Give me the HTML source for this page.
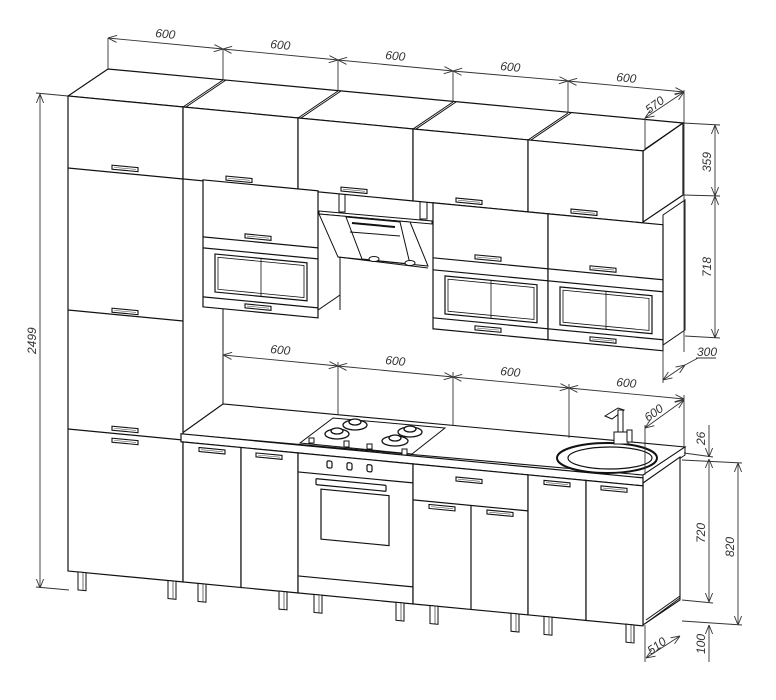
<!DOCTYPE html>
<html><head><meta charset="utf-8"><style>
html,body{margin:0;padding:0;background:#fff;}
svg{display:block;}
text{font-family:"Liberation Sans",sans-serif;font-style:italic;font-size:12px;fill:#333;}
</style></head><body>
<svg width="776" height="700" viewBox="0 0 776 700" xmlns="http://www.w3.org/2000/svg">
<defs>
<g id="h"><rect x="0" y="-2" width="26" height="4" fill="#fff" stroke="#111" stroke-width="1.1"/><line x1="2" y1="0" x2="24" y2="0" stroke="#555" stroke-width="0.6"/></g>
<g id="leg"><rect x="0" y="0" width="8" height="18" fill="#fff" stroke="#111" stroke-width="1"/><line x1="5" y1="0" x2="5" y2="18" stroke="#111" stroke-width="0.6"/></g>
<marker id="a" viewBox="0 0 10 10" refX="10" refY="5" markerWidth="9" markerHeight="9" orient="auto-start-reverse" markerUnits="userSpaceOnUse"><path d="M0,1 L10,5 L0,9" fill="none" stroke="#333" stroke-width="1"/></marker>
</defs>

<!-- top surfaces -->
<g fill="#fff" stroke="#111" stroke-width="1.2">
<polygon points="68,96 643,151 683,123 108,69"/>
<polygon points="643,151 683,123 683,195 643,222"/>
</g>
<g stroke="#111" stroke-width="1">
<line x1="183" y1="107" x2="223" y2="80"/><line x1="186" y1="107" x2="226" y2="80"/>
<line x1="298" y1="118" x2="338" y2="91"/><line x1="301" y1="118" x2="341" y2="91"/>
<line x1="413" y1="129" x2="453" y2="102"/><line x1="416" y1="129" x2="456" y2="102"/>
<line x1="528" y1="140" x2="568" y2="113"/><line x1="531" y1="140" x2="571" y2="113"/>
<line x1="645" y1="149" x2="683" y2="123"/>
</g>

<!-- back wall lines -->
<g stroke="#111" stroke-width="1">
<line x1="223" y1="308" x2="223" y2="404"/>
<line x1="340" y1="295" x2="340" y2="310"/>
<!-- counter top surface -->
<polygon points="181,434 643,475 685,447 223,404" fill="#fff" stroke-width="1.1"/>
<polygon points="643,475 685,447 685,455 643,483" fill="#fff"/>
<!-- base right side -->
<polygon points="643,483 680,457 680,600 643,625" fill="#fff" stroke-width="1.1"/>
<line x1="646" y1="623" x2="680" y2="598"/>
<line x1="646" y1="620" x2="680" y2="596"/>
<!-- middle right cabinets side -->
<polygon points="663,215 685,200 685,330 663,345" fill="#fff"/>
<!-- middle left cabinet side -->
<polygon points="318,192 340,178 340,295 318,310" fill="#fff"/>
</g>

<!-- hood -->
<g fill="#fff" stroke="#111" stroke-width="1">
<rect x="339" y="192" width="6" height="20"/>
<rect x="420" y="199" width="7" height="20"/>
<polygon points="319,211 432,221 432,224 319,214"/>
<polygon points="319,214 410,222 428,266 338,257"/>
<polygon points="346,217 400,222 410,264 362,259"/>
<line x1="352" y1="223" x2="395" y2="227" stroke-width="2"/>
<line x1="350" y1="232" x2="400" y2="236"/>
<line x1="338" y1="257" x2="428" y2="268"/>
<ellipse cx="374" cy="259" rx="5" ry="2.5"/><ellipse cx="410" cy="263" rx="5" ry="2.5"/>
</g>

<!-- hob -->
<g fill="#fff" stroke="#111" stroke-width="1">
<polygon points="300,443 412,454 445,428 333,418"/>
<g stroke-width="1.3">
<ellipse cx="337" cy="434" rx="12" ry="5"/><ellipse cx="355" cy="425" rx="12" ry="5"/>
<ellipse cx="395" cy="441" rx="13" ry="5"/><ellipse cx="410" cy="432" rx="12" ry="5"/>
<ellipse cx="337" cy="431" rx="6" ry="3"/><ellipse cx="355" cy="422" rx="6" ry="3"/>
<ellipse cx="395" cy="438" rx="6" ry="3"/><ellipse cx="410" cy="429" rx="6" ry="3"/>
</g>
<rect x="309" y="438" width="5" height="5"/><rect x="344" y="441" width="5" height="6"/><rect x="367" y="444" width="5" height="5"/><rect x="402" y="449" width="5" height="6"/>
</g>

<!-- sink -->
<ellipse cx="607" cy="458" rx="50" ry="15" fill="#fff" stroke="#111" stroke-width="2"/>
<ellipse cx="610" cy="458" rx="42" ry="11" fill="#fff" stroke="#111" stroke-width="1.2"/>
<g fill="#fff" stroke="#111" stroke-width="1">
<polygon points="605,416 618,408 624,410 612,419"/>
<rect x="618" y="410" width="5" height="28"/>
<rect x="614" y="432" width="14" height="12"/>
<rect x="627" y="430" width="5" height="12"/>
</g>

<!-- front elements (skewed) -->
<g transform="translate(0,-6.494) skewY(5.45)" fill="#fff" stroke="#111" stroke-width="1.2">
<!-- tall column -->
<rect x="68" y="96" width="115" height="475"/>
<line x1="68" y1="168" x2="183" y2="168"/>
<line x1="68" y1="310" x2="183" y2="310"/>
<line x1="68" y1="429" x2="183" y2="429"/>
<use href="#h" x="112" y="163"/><use href="#h" x="112" y="306"/><use href="#h" x="112" y="424"/><use href="#h" x="112" y="436"/>
<!-- top uppers -->
<rect x="183" y="96" width="115" height="72"/><rect x="298" y="96" width="115" height="72"/>
<rect x="413" y="96" width="115" height="72"/><rect x="528" y="96" width="115" height="72"/>
<use href="#h" x="226" y="163"/><use href="#h" x="341" y="163"/><use href="#h" x="456" y="163"/><use href="#h" x="571" y="163"/>
<!-- middle left -->
<rect x="203" y="167" width="115" height="127"/>
<line x1="203" y1="224" x2="318" y2="224"/><line x1="203" y1="235" x2="318" y2="235"/>
<line x1="203" y1="284" x2="318" y2="284"/>
<rect x="215" y="240" width="92" height="38"/><rect x="218" y="243" width="86" height="32" stroke-width="0.8"/>
<line x1="261" y1="240" x2="261" y2="278" stroke-width="0.8"/>
<use href="#h" x="245" y="219"/><use href="#h" x="245" y="289"/>
<!-- middle right -->
<rect x="433" y="168" width="115" height="126"/><rect x="548" y="168" width="115" height="126"/>
<line x1="433" y1="223" x2="663" y2="223"/><line x1="433" y1="235" x2="663" y2="235"/>
<line x1="433" y1="283" x2="663" y2="283"/>
<rect x="445" y="240" width="92" height="38"/><rect x="448" y="243" width="86" height="32" stroke-width="0.8"/>
<line x1="491" y1="240" x2="491" y2="278" stroke-width="0.8"/>
<rect x="560" y="240" width="92" height="38"/><rect x="563" y="243" width="86" height="32" stroke-width="0.8"/>
<line x1="606" y1="240" x2="606" y2="278" stroke-width="0.8"/>
<use href="#h" x="475" y="218"/><use href="#h" x="590" y="218"/><use href="#h" x="475" y="289"/><use href="#h" x="590" y="289"/>
<!-- counter front -->
<rect x="181" y="423" width="462" height="8"/>
<!-- base units -->
<rect x="183" y="431" width="58" height="140"/><rect x="241" y="431" width="57" height="140"/>
<rect x="298" y="431" width="115" height="140"/>
<rect x="413" y="431" width="115" height="140"/>
<line x1="413" y1="467" x2="528" y2="467"/><line x1="471" y1="467" x2="471" y2="571"/>
<rect x="528" y="431" width="58" height="140"/><rect x="586" y="431" width="57" height="140"/>
<use href="#h" x="199" y="437"/><use href="#h" x="256" y="437"/>
<use href="#h" x="456" y="442"/><use href="#h" x="429" y="472"/><use href="#h" x="487" y="472"/>
<use href="#h" x="544" y="437"/><use href="#h" x="601" y="437"/>
<!-- oven -->
<line x1="298" y1="450" x2="413" y2="450"/>
<rect x="327" y="436" width="5" height="7" rx="1.5"/><rect x="347" y="436" width="5" height="7" rx="1.5"/><rect x="367" y="436" width="5" height="7" rx="1.5"/>
<rect x="316" y="455" width="70" height="6" rx="1"/>
<rect x="321" y="465" width="68" height="50"/>
<line x1="298" y1="554" x2="413" y2="554"/>
<!-- legs -->
<use href="#leg" x="78" y="571"/><use href="#leg" x="168" y="571"/><use href="#leg" x="198" y="571"/>
<use href="#leg" x="279" y="571"/><use href="#leg" x="314" y="571"/><use href="#leg" x="396" y="571"/>
<use href="#leg" x="430" y="571"/><use href="#leg" x="511" y="571"/><use href="#leg" x="544" y="571"/><use href="#leg" x="626" y="571"/>
</g>

<!-- dimensions -->
<g stroke="#333" stroke-width="0.9" fill="none">
<line x1="108" y1="38" x2="108" y2="69"/><line x1="223" y1="49" x2="223" y2="80"/>
<line x1="338" y1="60" x2="338" y2="91"/><line x1="453" y1="71" x2="453" y2="102"/>
<line x1="568" y1="81" x2="568" y2="113"/>
<line x1="108" y1="38" x2="223" y2="49" marker-start="url(#a)" marker-end="url(#a)"/>
<line x1="223" y1="49" x2="338" y2="60" marker-start="url(#a)" marker-end="url(#a)"/>
<line x1="338" y1="60" x2="453" y2="71" marker-start="url(#a)" marker-end="url(#a)"/>
<line x1="453" y1="71" x2="568" y2="81" marker-start="url(#a)" marker-end="url(#a)"/>
<line x1="568" y1="81" x2="684" y2="92" marker-start="url(#a)" marker-end="url(#a)"/>
<line x1="684" y1="90" x2="684" y2="352"/>
<line x1="645" y1="118" x2="645" y2="149"/>
<line x1="645" y1="118" x2="684" y2="92" marker-start="url(#a)" marker-end="url(#a)"/>
<!-- 359/718 -->
<line x1="683" y1="123" x2="720" y2="125"/><line x1="683" y1="195" x2="720" y2="196"/><line x1="685" y1="336" x2="720" y2="338"/>
<line x1="715" y1="125" x2="715" y2="196" marker-start="url(#a)" marker-end="url(#a)"/>
<line x1="715" y1="196" x2="715" y2="338" marker-start="url(#a)" marker-end="url(#a)"/>
<!-- 300 -->
<line x1="663" y1="345" x2="663" y2="383"/>
<line x1="663" y1="380" x2="685" y2="365" marker-start="url(#a)" marker-end="url(#a)"/>
<line x1="685" y1="365" x2="698" y2="358"/><line x1="696" y1="358" x2="716" y2="358"/>
<!-- middle 600s -->
<line x1="223" y1="355" x2="338" y2="366" marker-start="url(#a)" marker-end="url(#a)"/>
<line x1="338" y1="366" x2="453" y2="377" marker-start="url(#a)" marker-end="url(#a)"/>
<line x1="453" y1="377" x2="569" y2="388" marker-start="url(#a)" marker-end="url(#a)"/>
<line x1="569" y1="388" x2="684" y2="399" marker-start="url(#a)" marker-end="url(#a)"/>
<line x1="223" y1="350" x2="223" y2="356"/>
<line x1="338" y1="362" x2="338" y2="415"/><line x1="453" y1="372" x2="453" y2="426"/>
<line x1="569" y1="384" x2="569" y2="438"/><line x1="684" y1="395" x2="684" y2="447"/>
<line x1="645" y1="425" x2="645" y2="475"/>
<line x1="645" y1="428" x2="684" y2="400" marker-start="url(#a)" marker-end="url(#a)"/>
<!-- right base dims -->
<line x1="684" y1="453" x2="713" y2="457"/><line x1="682" y1="460" x2="742" y2="463"/>
<line x1="682" y1="600" x2="713" y2="603"/><line x1="682" y1="621" x2="742" y2="625"/>
<line x1="709" y1="425" x2="709" y2="457" marker-end="url(#a)"/>
<line x1="709" y1="459" x2="709" y2="602" marker-start="url(#a)" marker-end="url(#a)"/>
<line x1="709" y1="625" x2="709" y2="662" marker-start="url(#a)"/>
<line x1="738" y1="463" x2="738" y2="625" marker-start="url(#a)" marker-end="url(#a)"/>
<!-- 510 -->
<line x1="645" y1="625" x2="645" y2="662"/>
<line x1="646" y1="658" x2="680" y2="636" marker-start="url(#a)" marker-end="url(#a)"/>
<!-- 2499 -->
<line x1="36" y1="93" x2="68" y2="96"/><line x1="36" y1="587" x2="69" y2="590"/>
<line x1="40" y1="94" x2="40" y2="588" marker-start="url(#a)" marker-end="url(#a)"/>
</g>

<g>
<text x="155" y="37" transform="rotate(5.45 155 37)">600</text>
<text x="270" y="48" transform="rotate(5.45 270 48)">600</text>
<text x="385" y="59" transform="rotate(5.45 385 59)">600</text>
<text x="500" y="70" transform="rotate(5.45 500 70)">600</text>
<text x="616" y="81" transform="rotate(5.45 616 81)">600</text>
<text x="649" y="114" transform="rotate(-36 649 114)">570</text>
<text x="711" y="172" transform="rotate(-90 711 172)">359</text>
<text x="711" y="277" transform="rotate(-90 711 277)">718</text>
<text x="697" y="356">300</text>
<text x="270" y="353" transform="rotate(5.45 270 353)">600</text>
<text x="385" y="364" transform="rotate(5.45 385 364)">600</text>
<text x="500" y="375" transform="rotate(5.45 500 375)">600</text>
<text x="616" y="386" transform="rotate(5.45 616 386)">600</text>
<text x="648" y="422" transform="rotate(-36 648 422)">600</text>
<text x="705" y="445" transform="rotate(-90 705 445)">26</text>
<text x="705" y="543" transform="rotate(-90 705 543)">720</text>
<text x="734" y="557" transform="rotate(-90 734 557)">820</text>
<text x="705" y="654" transform="rotate(-90 705 654)">100</text>
<text x="651" y="655" transform="rotate(-36 651 655)">510</text>
<text x="36" y="354" transform="rotate(-90 36 354)">2499</text>
</g>
</svg>
</body></html>
